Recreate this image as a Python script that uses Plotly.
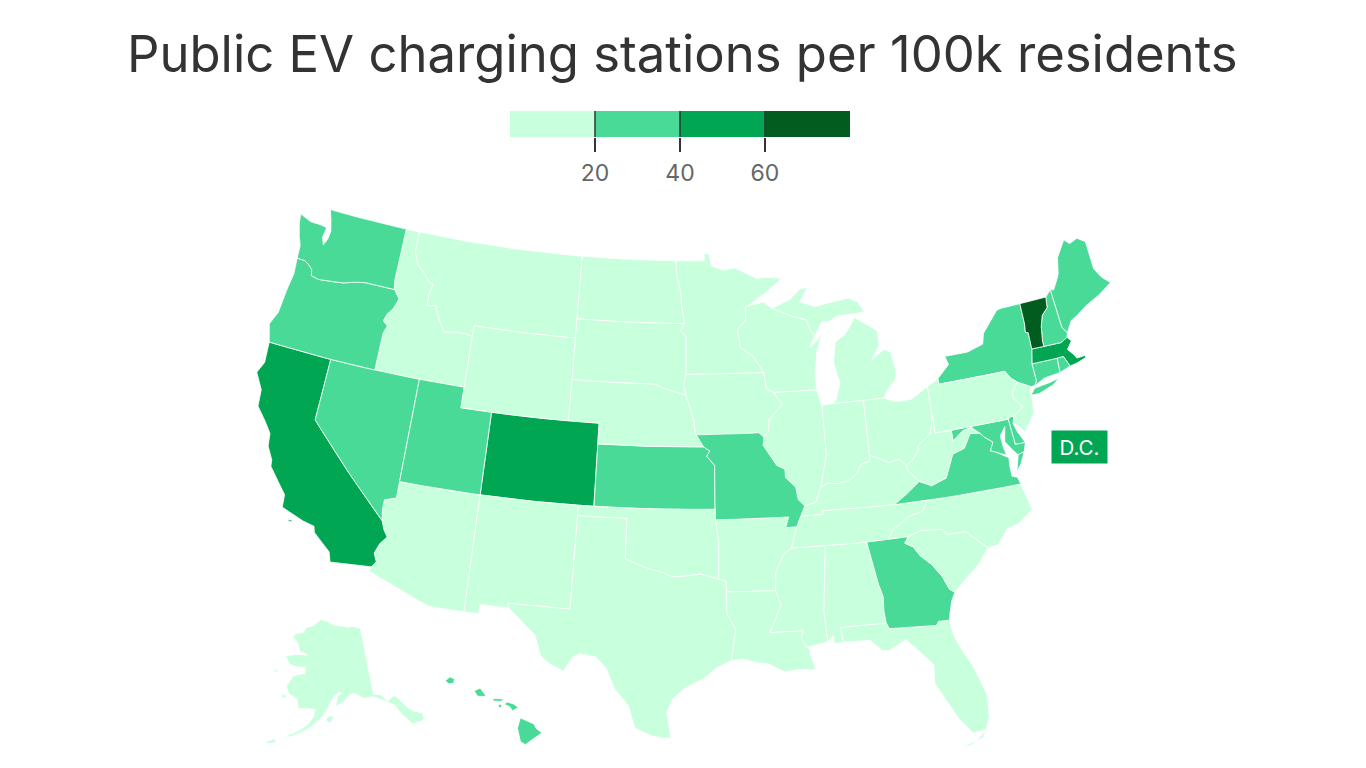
import numpy as np
import plotly.graph_objects as go

TITLE = "Public EV charging stations per 100k residents"
categories = ["AL","AK","AZ","AR","CA","CO","CT","DE","FL","GA","HI","ID","IL","IN","IA","KS","KY","LA","ME","MD","MA","MI","MN","MS","MO","MT","NE","NV","NH","NJ","NM","NY","NC","ND","OH","OK","OR","PA","RI","SC","SD","TN","TX","UT","VT","VA","WA","WV","WI","WY"]
values = [5,8,12,9,45,42,28,25,14,22,30,11,10,9,12,25,8,6,30,28,48,10,14,4,22,13,12,27,30,18,12,24,14,10,11,6,32,15,35,10,9,9,9,32,72,25,30,7,12,16]
bin_edges = [20,40,60]
bin_colors = ["#c8ffdc","#49da97","#00a651","#005c1f"]
legend_mid = [10,30,50,70]
dc_label = "D.C."

# state outlines, (lon, lat); several rings per state where needed
WA = [[(-124.73,48.38),(-124.62,47.9),(-124.35,47.3),(-124.1,46.9),(-124.05,46.27),(-123.5,46.26),(-123.2,46.15),(-122.85,45.95),(-122.75,45.65),(-122.2,45.57),(-121.2,45.65),(-120.5,45.72),(-119.6,45.92),(-118.98,46.0),(-116.92,46.0),(-117.04,46.42),(-117.04,49.0),(-122.76,49.0),(-122.5,48.5),(-122.3,48.0),(-122.35,47.6),(-122.55,47.25),(-122.75,47.6),(-122.65,48.1),(-123.1,48.15),(-123.9,48.16)]]
OR = [[(-124.05,46.27),(-123.95,45.5),(-124.1,44.6),(-124.2,43.5),(-124.55,42.84),(-124.2,42.0),(-120,42),(-117.03,42),(-117.03,43.83),(-116.85,44.2),(-117.2,44.4),(-117.05,44.75),(-116.7,45.1),(-116.47,45.6),(-116.92,46.0),(-118.98,46.0),(-119.6,45.92),(-120.5,45.72),(-121.2,45.65),(-122.2,45.57),(-122.75,45.65),(-122.85,45.95),(-123.2,46.15),(-123.5,46.26)]]
CA = [[(-124.2,42),(-124.1,41.0),(-124.4,40.44),(-123.8,39.7),(-123.7,38.9),(-123.0,38.3),(-122.5,37.8),(-122.4,37.2),(-121.95,36.6),(-121.9,36.3),(-120.65,35.15),(-120.6,34.55),(-119.2,34.15),(-118.5,34.03),(-118.4,33.75),(-117.3,33.0),(-117.12,32.53),(-114.72,32.72),(-114.5,33.0),(-114.72,33.4),(-114.5,33.9),(-114.15,34.27),(-114.43,34.6),(-114.63,35.0),(-120,39),(-120,42)],
      [(-120.1,34.03),(-119.9,34.06),(-119.75,34.0),(-120.0,33.96)]]
NV = [[(-120,42),(-120,39),(-114.63,35.0),(-114.74,35.5),(-114.74,36.0),(-114.05,36.2),(-114.05,37.0),(-114.04,42),(-117.03,42)]]
UT = [[(-114.04,42),(-111.05,42),(-111.05,41),(-109.05,41),(-109.05,37),(-114.05,37)]]
ID = [[(-117.04,49),(-116.05,49),(-116.05,48.0),(-115.7,47.45),(-115.0,47.0),(-114.6,46.65),(-114.35,46.65),(-114.5,46.1),(-114.45,45.55),(-113.9,45.65),(-113.45,44.95),(-113.0,44.45),(-112.3,44.55),(-111.5,44.55),(-111.05,44.48),(-111.05,42),(-114.04,42),(-117.03,42),(-117.03,43.83),(-116.85,44.2),(-117.2,44.4),(-117.05,44.75),(-116.7,45.1),(-116.47,45.6),(-116.92,46.0),(-117.04,46.42)]]
MT = [[(-116.05,49),(-104.05,49),(-104.05,45),(-111.05,45),(-111.05,44.48),(-111.5,44.55),(-112.3,44.55),(-113.0,44.45),(-113.45,44.95),(-113.9,45.65),(-114.45,45.55),(-114.5,46.1),(-114.35,46.65),(-114.6,46.65),(-115.0,47.0),(-115.7,47.45),(-116.05,48.0)]]
WY = [[(-111.05,45),(-104.05,45),(-104.05,41),(-111.05,41)]]
CO = [[(-109.05,41),(-102.05,41),(-102.05,37),(-109.05,37)]]
NM = [[(-109.05,37),(-103.0,37),(-103.04,32),(-106.62,32),(-106.53,31.78),(-108.2,31.78),(-108.2,31.33),(-109.05,31.33)]]
AZ = [[(-114.05,37),(-109.05,37),(-109.05,31.33),(-111.07,31.33),(-114.81,32.5),(-114.72,32.72),(-114.5,33.0),(-114.72,33.4),(-114.5,33.9),(-114.15,34.27),(-114.43,34.6),(-114.63,35.0),(-114.74,35.5),(-114.74,36.0),(-114.05,36.2)]]
ND = [[(-104.05,49),(-97.23,49),(-97.13,48.2),(-96.85,47.5),(-96.8,46.9),(-96.56,45.94),(-104.05,45.94)]]
SD = [[(-104.05,45.94),(-96.56,45.94),(-96.85,45.6),(-96.45,45.3),(-96.45,43.5),(-96.6,43.0),(-96.45,42.49),(-97.9,42.8),(-98.5,43.0),(-104.05,43)]]
NE = [[(-104.05,43),(-98.5,43),(-97.9,42.8),(-96.45,42.49),(-96.1,41.7),(-95.9,41.2),(-95.85,40.7),(-95.77,40.58),(-95.31,40),(-102.05,40),(-102.05,41),(-104.05,41)]]
KS = [[(-102.05,40),(-95.31,40),(-94.9,39.8),(-95.1,39.55),(-94.61,39.1),(-94.62,37),(-102.04,37)]]
OK = [[(-103,37),(-94.62,37),(-94.62,36.5),(-94.43,35.4),(-94.48,33.64),(-95.5,33.9),(-96.5,33.8),(-97.2,33.75),(-97.7,33.95),(-98.5,34.1),(-99.2,34.3),(-100,34.56),(-100,36.5),(-103,36.5)]]
TX = [[(-106.62,32),(-103.04,32),(-103,36.5),(-100,36.5),(-100,34.56),(-99.2,34.3),(-98.5,34.1),(-97.7,33.95),(-97.2,33.75),(-96.5,33.8),(-95.5,33.9),(-94.48,33.64),(-94.04,33.55),(-94.04,33.02),(-94.04,31.99),(-93.55,31.2),(-93.7,30.4),(-93.85,29.7),(-94.7,29.35),(-95.3,28.9),(-96.4,28.4),(-97.1,27.85),(-97.4,27.2),(-97.15,25.96),(-97.6,25.95),(-98.2,26.05),(-99.1,26.4),(-99.5,27.5),(-100.3,28.3),(-100.8,29.25),(-101.4,29.77),(-102.3,29.88),(-102.7,29.7),(-103.15,28.98),(-104.0,29.3),(-104.5,29.65),(-104.9,30.6),(-106.0,31.4),(-106.53,31.78)]]
MN = [[(-97.23,49),(-95.15,49),(-95.15,49.38),(-94.8,49.33),(-94.64,48.74),(-93.8,48.53),(-92.95,48.62),(-92.0,48.3),(-91.4,48.07),(-90.75,48.1),(-89.6,48.0),(-90.9,47.3),(-92.1,46.75),(-92.29,46.66),(-92.29,46.07),(-92.9,45.6),(-92.75,45.0),(-92.75,44.75),(-91.9,44.3),(-91.22,43.5),(-96.45,43.5),(-96.45,45.3),(-96.85,45.6),(-96.56,45.94),(-96.8,46.9),(-96.85,47.5),(-97.13,48.2)]]
IA = [[(-96.45,43.5),(-91.22,43.5),(-91.1,42.7),(-90.64,42.51),(-90.15,41.9),(-91.05,41.2),(-91.1,40.7),(-91.42,40.38),(-91.73,40.61),(-95.77,40.58),(-95.85,40.7),(-95.9,41.2),(-96.1,41.7),(-96.45,42.49),(-96.6,43.0)]]
MO = [[(-95.77,40.58),(-91.73,40.61),(-91.42,40.38),(-91.5,40.0),(-90.7,39.0),(-90.2,38.8),(-90.2,38.4),(-89.6,37.9),(-89.5,37.3),(-89.13,36.98),(-89.4,36.5),(-89.7,36.0),(-90.37,36.0),(-90.15,36.5),(-94.62,36.5),(-94.62,37),(-94.61,39.1),(-95.1,39.55),(-94.9,39.8),(-95.31,40)]]
AR = [[(-94.62,36.5),(-90.15,36.5),(-90.37,36.0),(-89.7,36.0),(-90.1,35.0),(-90.6,34.7),(-91.1,33.9),(-91.17,33.0),(-94.04,33.02),(-94.04,33.55),(-94.48,33.64),(-94.43,35.4)]]
LA = [[(-94.04,33.02),(-91.17,33.0),(-90.9,32.3),(-91.6,31.0),(-89.73,31.0),(-89.85,30.65),(-89.6,30.18),(-89.4,30.05),(-89.4,29.8),(-89.15,29.05),(-90.1,29.15),(-90.9,29.05),(-91.8,29.5),(-92.3,29.55),(-93.2,29.77),(-93.85,29.7),(-93.7,30.4),(-93.55,31.2),(-94.04,31.99)]]
MS = [[(-91.17,33.0),(-91.1,33.9),(-90.6,34.7),(-90.1,35.0),(-88.2,35.0),(-88.1,34.9),(-88.47,31.9),(-88.4,30.37),(-89.6,30.18),(-89.85,30.65),(-89.73,31.0),(-91.6,31.0),(-90.9,32.3)]]
AL = [[(-88.2,35.0),(-85.6,34.98),(-85.18,32.87),(-85.0,32.3),(-85.05,31.55),(-85.0,31.0),(-87.6,31.0),(-87.5,30.3),(-88.0,30.25),(-88.05,30.65),(-88.4,30.37),(-88.47,31.9),(-88.1,34.9)]]
GA = [[(-85.6,34.98),(-84.32,34.99),(-83.1,35.0),(-83.35,34.7),(-82.9,34.48),(-82.55,34.0),(-81.95,33.5),(-81.45,32.85),(-81.15,32.2),(-80.88,32.03),(-81.15,31.6),(-81.45,30.72),(-82.05,30.75),(-82.2,30.57),(-84.86,30.71),(-85.0,31.0),(-85.05,31.55),(-85.0,32.3),(-85.18,32.87)]]
FL = [[(-87.6,31.0),(-85.0,31.0),(-84.86,30.71),(-82.2,30.57),(-82.05,30.75),(-81.45,30.72),(-81.3,29.9),(-80.9,29.0),(-80.55,28.4),(-80.05,26.9),(-80.12,25.8),(-80.4,25.2),(-81.1,25.13),(-81.75,25.95),(-82.1,26.6),(-82.75,27.8),(-82.65,28.7),(-83.4,29.5),(-84.0,30.1),(-85.0,29.65),(-85.4,29.7),(-86.0,30.25),(-87.5,30.3)],
      [(-81.85,24.55),(-81.0,24.7),(-80.45,25.15),(-80.6,24.85),(-81.3,24.55)]]
SC = [[(-83.1,35.0),(-82.3,35.2),(-81.05,35.1),(-80.8,34.82),(-79.67,34.8),(-78.55,33.86),(-79.2,33.2),(-79.9,32.7),(-80.88,32.03),(-81.15,32.2),(-81.45,32.85),(-81.95,33.5),(-82.55,34.0),(-82.9,34.48),(-83.35,34.7)]]
NC = [[(-84.32,34.99),(-83.1,35.0),(-82.3,35.2),(-81.05,35.1),(-80.8,34.82),(-79.67,34.8),(-78.55,33.86),(-77.9,33.9),(-77.2,34.6),(-76.5,34.7),(-75.53,35.25),(-75.87,36.55),(-81.68,36.59),(-82.0,36.12),(-82.9,35.95),(-84.0,35.4)]]
TN = [[(-90.1,35.0),(-88.2,35.0),(-85.6,34.98),(-84.32,34.99),(-84.0,35.4),(-82.9,35.95),(-82.0,36.12),(-81.68,36.59),(-83.68,36.6),(-88.07,36.68),(-88.07,36.5),(-89.4,36.5),(-89.7,36.0)]]
KY = [[(-89.4,36.5),(-88.07,36.5),(-88.07,36.68),(-83.68,36.6),(-82.9,37.0),(-81.97,37.54),(-82.6,38.17),(-82.6,38.4),(-83.0,38.73),(-83.7,38.65),(-84.25,38.9),(-84.82,39.1),(-84.85,38.8),(-85.4,38.73),(-85.75,38.27),(-86.3,38.0),(-87.0,37.9),(-87.6,37.97),(-88.05,37.8),(-88.45,37.1),(-89.13,36.98)]]
IL = [[(-91.42,40.38),(-91.5,40.0),(-90.7,39.0),(-90.2,38.8),(-90.2,38.4),(-89.6,37.9),(-89.5,37.3),(-89.13,36.98),(-88.45,37.1),(-88.05,37.8),(-87.95,38.1),(-87.53,39.35),(-87.53,41.7),(-87.8,42.49),(-90.64,42.51),(-90.15,41.9),(-91.05,41.2),(-91.1,40.7)]]
IN = [[(-87.53,41.7),(-87.2,41.75),(-86.82,41.76),(-84.8,41.76),(-84.82,39.1),(-84.85,38.8),(-85.4,38.73),(-85.75,38.27),(-86.3,38.0),(-87.0,37.9),(-87.6,37.97),(-88.05,37.8),(-87.95,38.1),(-87.53,39.35)]]
OH = [[(-84.8,41.76),(-83.45,41.73),(-82.7,41.5),(-81.7,41.5),(-80.52,41.98),(-80.52,40.64),(-80.7,40.0),(-80.85,39.7),(-81.7,39.25),(-81.75,39.0),(-82.2,38.6),(-82.6,38.4),(-83.0,38.73),(-83.7,38.65),(-84.25,38.9),(-84.82,39.1)]]
WV = [[(-82.6,38.4),(-82.2,38.6),(-81.75,39.0),(-81.7,39.25),(-80.85,39.7),(-80.7,40.0),(-80.52,40.64),(-80.52,39.72),(-79.48,39.72),(-79.48,39.2),(-78.75,39.6),(-78.2,39.68),(-77.72,39.32),(-78.35,39.4),(-78.87,38.76),(-79.65,38.58),(-80.3,37.5),(-81.25,37.25),(-81.97,37.54),(-82.6,38.17)]]
VA = [[(-83.68,36.6),(-81.68,36.59),(-75.87,36.55),(-75.98,36.9),(-76.3,37.0),(-76.3,37.55),(-76.25,37.9),(-77.0,38.3),(-77.3,38.4),(-77.04,38.79),(-77.5,39.1),(-77.72,39.32),(-78.35,39.4),(-78.87,38.76),(-79.65,38.58),(-80.3,37.5),(-81.25,37.25),(-81.97,37.54),(-82.9,37.0)],
      [(-75.95,37.15),(-75.65,37.95),(-75.24,38.03),(-75.6,37.5)]]
MD = [[(-79.48,39.72),(-75.79,39.72),(-75.69,38.46),(-75.05,38.45),(-75.24,38.03),(-75.65,37.95),(-75.9,38.2),(-76.3,38.7),(-76.1,39.4),(-76.5,39.0),(-76.45,38.4),(-76.35,38.05),(-77.0,38.3),(-77.3,38.4),(-77.04,38.79),(-77.5,39.1),(-77.72,39.32),(-78.2,39.68),(-78.75,39.6),(-79.48,39.2)]]
DE = [[(-75.79,39.72),(-75.6,39.82),(-75.4,39.8),(-75.55,39.45),(-75.4,39.05),(-75.05,38.45),(-75.69,38.46)]]
PA = [[(-80.52,41.98),(-79.76,42.27),(-79.76,42.0),(-75.35,42.0),(-75.05,41.6),(-74.7,41.36),(-75.15,40.95),(-75.2,40.65),(-74.72,40.15),(-75.4,39.8),(-75.6,39.82),(-75.79,39.72),(-80.52,39.72)]]
NJ = [[(-74.7,41.36),(-73.9,41.0),(-74.05,40.65),(-74.0,40.45),(-74.1,39.75),(-74.9,38.95),(-75.5,39.5),(-75.4,39.8),(-74.72,40.15),(-75.2,40.65),(-75.15,40.95)]]
NY = [[(-79.76,42.0),(-79.76,42.27),(-78.9,42.85),(-79.05,43.27),(-77.5,43.27),(-76.4,43.5),(-76.2,44.0),(-75.0,44.95),(-74.7,45.0),(-73.34,45.01),(-73.35,44.0),(-73.43,43.6),(-73.25,43.55),(-73.28,42.75),(-73.5,42.05),(-73.48,41.2),(-73.65,41.0),(-73.9,41.0),(-74.7,41.36),(-75.05,41.6),(-75.35,42.0)],
      [(-74.03,40.6),(-73.7,40.88),(-72.65,40.98),(-72.0,41.08),(-72.5,40.82),(-73.5,40.58)]]
VT = [[(-73.34,45.01),(-71.5,45.01),(-71.6,44.5),(-72.05,44.2),(-72.3,43.7),(-72.46,43.0),(-72.46,42.73),(-73.28,42.75),(-73.25,43.55),(-73.43,43.6),(-73.35,44.0)]]
NH = [[(-71.5,45.01),(-71.08,45.3),(-70.98,43.4),(-70.72,43.07),(-70.82,42.87),(-71.3,42.7),(-72.46,42.73),(-72.46,43.0),(-72.3,43.7),(-72.05,44.2),(-71.6,44.5)]]
ME = [[(-71.08,45.3),(-70.85,45.25),(-70.4,45.75),(-70.25,45.95),(-70.0,46.7),(-69.23,47.46),(-68.9,47.2),(-68.3,47.35),(-67.79,47.07),(-67.79,45.7),(-67.45,45.2),(-66.97,44.82),(-68.0,44.4),(-69.0,44.1),(-69.8,43.75),(-70.25,43.6),(-70.72,43.07),(-70.98,43.4)]]
MA = [[(-73.5,42.05),(-73.28,42.75),(-72.46,42.73),(-71.3,42.7),(-70.82,42.87),(-70.6,42.65),(-71.0,42.3),(-70.65,41.95),(-70.55,41.78),(-70.05,41.8),(-70.2,42.07),(-69.95,41.7),(-70.65,41.55),(-71.12,41.5),(-71.2,41.67),(-71.38,42.02),(-71.8,42.02)]]
RI = [[(-71.8,42.02),(-71.38,42.02),(-71.2,41.67),(-71.12,41.5),(-71.85,41.32)]]
CT = [[(-73.5,42.05),(-71.8,42.02),(-71.85,41.32),(-72.9,41.25),(-73.65,41.0),(-73.48,41.2)]]
MI = [[(-86.82,41.76),(-84.8,41.76),(-83.45,41.73),(-83.15,42.1),(-82.5,42.6),(-82.42,43.0),(-82.6,43.9),(-83.0,44.07),(-83.9,43.65),(-83.3,44.3),(-83.3,45.0),(-84.75,45.78),(-85.1,45.4),(-85.55,45.0),(-86.25,44.7),(-86.5,43.7),(-86.2,42.7),(-86.6,41.9)],
      [(-90.42,46.57),(-89.1,46.95),(-88.4,47.4),(-87.8,47.47),(-88.45,46.8),(-87.4,46.5),(-86.0,46.67),(-85.0,46.75),(-84.4,46.5),(-84.0,46.0),(-84.75,45.95),(-85.9,45.95),(-86.55,45.7),(-87.0,45.75),(-87.6,45.1),(-87.85,45.35),(-88.1,45.9),(-89.1,46.13)]]
WI = [[(-92.1,46.75),(-91.0,46.9),(-90.42,46.57),(-89.1,46.13),(-88.1,45.9),(-87.85,45.35),(-87.6,45.1),(-88.0,44.55),(-87.4,44.9),(-87.05,45.25),(-87.55,44.3),(-87.8,43.3),(-87.8,42.49),(-90.64,42.51),(-91.1,42.7),(-91.22,43.5),(-91.9,44.3),(-92.75,44.75),(-92.75,45.0),(-92.9,45.6),(-92.29,46.07),(-92.29,46.66)]]
HI = [[(-155.9,20.25),(-155.2,19.95),(-155.08,19.72),(-154.8,19.52),(-155.65,18.95),(-155.9,19.1),(-156.05,19.75)],
      [(-156.7,20.9),(-156.6,21.03),(-156.25,20.93),(-156.0,20.75),(-156.3,20.6),(-156.45,20.8)],
      [(-157.3,21.2),(-156.72,21.17),(-156.9,21.05),(-157.3,21.08)],
      [(-157.05,20.9),(-156.85,20.92),(-156.9,20.75),(-157.0,20.75)],
      [(-158.28,21.57),(-157.97,21.7),(-157.65,21.3),(-158.1,21.3)],
      [(-159.78,22.05),(-159.55,22.23),(-159.3,22.15),(-159.35,21.93),(-159.6,21.9)]]
AK = [[(-141,69.65),(-143.5,70.1),(-145.5,70.0),(-148.5,70.4),(-151,70.45),(-153,70.9),(-156.6,71.35),(-158,70.85),(-160,70.3),(-162.5,70.0),(-163.2,69.3),(-166.2,68.9),(-166.8,68.35),(-164.5,67.6),(-163.7,66.6),(-161.6,66.4),(-161.0,66.2),(-163.5,66.2),(-165.5,66.0),(-168.1,65.6),(-166.3,64.6),(-165.0,64.45),(-162.8,64.4),(-161,64.5),(-161,63.6),(-162.5,63.5),(-164.5,63.05),(-166,61.6),(-165,60.6),(-162.5,60.0),(-162.0,59.2),(-161.9,58.7),(-160,58.9),(-158.5,58.8),(-157.3,58.8),(-157.5,58.0),(-158.5,56.9),(-160.5,55.9),(-163,55.0),(-164.8,54.6),(-163.0,54.7),(-161.5,55.1),(-159.5,55.8),(-158,56.4),(-156.5,57.2),(-155,58.0),(-153.9,59.0),(-153,59.9),(-152,60.7),(-150.5,61.2),(-149.7,61.0),(-151.0,60.7),(-151.8,59.3),(-150.5,59.5),(-149,60.0),(-147.5,60.8),(-146,60.8),(-144,60.0),(-141.5,60.0),(-139.7,59.6),(-137.5,58.7),(-136,58.2),(-135.2,56.9),(-134.0,55.9),(-133.2,55),(-131.0,54.9),(-130.0,55.1),(-130.0,56.0),(-131.8,56.6),(-133.0,57.3),(-134.0,58.5),(-135.5,59.5),(-137.5,59.0),(-139.2,60.1),(-141,60.3)],
      [(-154.5,57.4),(-153.3,58.0),(-152.2,57.7),(-153.3,56.9)],
      [(-167,60.2),(-166,60.4),(-165.5,60.0),(-166.5,59.8)],
      [(-171.5,63.5),(-169,63.35),(-170,63.1)],
      [(-168.5,53.4),(-166.5,54.1),(-166,53.7),(-168,53.2)]]
outlines = {k: v for k, v in globals().items() if k in categories}

K, TX0, TY0 = 1183.0, 683.0, 474.0
W, H = 1366, 768


def conic(lon, lat, rot, clon, clat, p1, p2):
    def raw(lo, la):
        phi, lam = np.radians(la), np.radians(lo - rot)
        s1, s2 = np.sin(np.radians(p1)), np.sin(np.radians(p2))
        n = (s1 + s2) / 2
        c = 1 + s1 * (2 * n - s1)
        r0 = np.sqrt(c) / n
        r = np.sqrt(c - 2 * n * np.sin(phi)) / n
        return r * np.sin(lam * n), r0 - r * np.cos(lam * n)
    x, y = raw(lon, lat)
    cx, cy = raw(clon, clat)
    return x - cx, y - cy


def albers_usa(lon, lat, code):
    if code == "AK":
        x, y = conic(lon, lat, -154, -156, 58.5, 55, 65)
        return -0.307 + 0.35 * x, -0.201 + 0.35 * y
    if code == "HI":
        x, y = conic(lon, lat, -157, -160, 19.9, 8, 18)
        return -0.205 + x, -0.212 + y
    return conic(lon, lat, -96, -96.6, 38.7, 29.5, 45.5)


def ring_xy(ring, code):
    pts = ring + [ring[0]]
    lons, lats = [], []
    for (a, b), (c, d) in zip(pts[:-1], pts[1:]):
        n = max(1, int(max(abs(c - a), abs(d - b)) / 0.5))
        lons += list(np.linspace(a, c, n, endpoint=False))
        lats += list(np.linspace(b, d, n, endpoint=False))
    lons.append(pts[-1][0])
    lats.append(pts[-1][1])
    return albers_usa(np.array(lons), np.array(lats), code)


fig = go.Figure()
for code, val in zip(categories, values):
    color = bin_colors[int(np.searchsorted(bin_edges, val, side="right"))]
    xs, ys = [], []
    for ring in outlines[code]:
        x, y = ring_xy(ring, code)
        xs += list(x) + [None]
        ys += list(y) + [None]
    fig.add_trace(go.Scatter(x=xs, y=ys, mode="lines", fill="toself", fillcolor=color,
                             line=dict(color="white", width=0.8), name=code, hoverinfo="name", showlegend=False))

steps = []
for i, c in enumerate(bin_colors):
    steps += [[i / 4, c], [(i + 1) / 4, c]]
fig.add_trace(go.Heatmap(x=legend_mid, y=[0], z=[list(range(4))], zmin=-0.5, zmax=3.5, colorscale=steps,
                         showscale=False, xaxis="x2", yaxis="y2", hoverinfo="skip"))
for e in bin_edges:
    fig.add_shape(type="line", xref="x2", yref="y2 domain", x0=e, x1=e, y0=0, y1=1, line=dict(color="#333333", width=1.5))

fig.update_layout(
    width=W, height=H, margin=dict(l=0, r=0, t=0, b=0), paper_bgcolor="white", plot_bgcolor="white",
    font=dict(family="Inter, sans-serif"), showlegend=False,
    title=dict(text=TITLE, x=0.4995, xanchor="center", y=1 - 54 / H, yanchor="middle", font=dict(size=50.8, color="#333333")),
    xaxis=dict(range=[-TX0 / K, (W - TX0) / K], visible=False, fixedrange=True),
    yaxis=dict(range=[(TY0 - H) / K, TY0 / K], visible=False, fixedrange=True),
    xaxis2=dict(domain=[510 / W, 850 / W], anchor="y2", range=[0, 80], tickvals=bin_edges, ticks="outside", ticklen=14,
                tickwidth=1.5, tickcolor="#333333", showgrid=False, zeroline=False, showline=False, fixedrange=True,
                ticklabelstandoff=1, tickfont=dict(size=23, color="#666666")),
    yaxis2=dict(domain=[1 - 137 / H, 1 - 111 / H], anchor="x2", range=[-0.5, 0.5], visible=False, fixedrange=True),
    annotations=[dict(text=dc_label, x=1079.5 / W, y=1 - 447 / H, xref="paper", yref="paper", showarrow=False,
                      xanchor="center", yanchor="middle", bgcolor="#00a651", width=53, height=30, borderpad=1,
                      font=dict(color="white", size=20.5))],
)
fig.write_html("out.html", config=dict(displayModeBar=False),
               post_script="document.body.style.margin='0';document.body.style.overflow='hidden';")
